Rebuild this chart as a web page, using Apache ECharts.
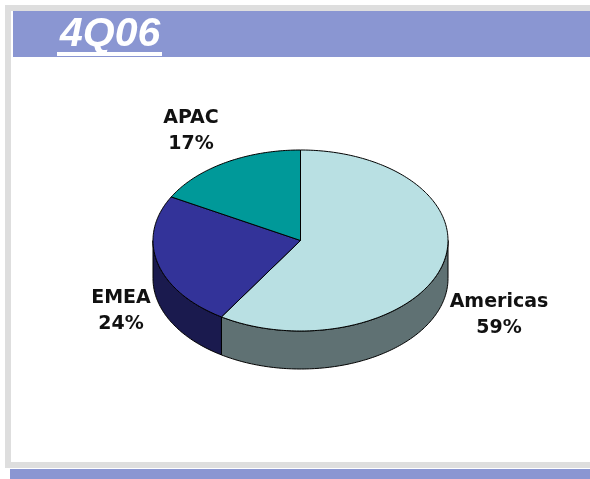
<!DOCTYPE html>
<html>
<head>
<meta charset="utf-8">
<style>html,body{margin:0;padding:0;background:#fff}#c{width:590px;height:479px}</style>
<script src="https://cdn.jsdelivr.net/npm/echarts@6/dist/echarts.min.js"></script>
</head>
<body>
<div id="c"></div>
<script>
const titleText = '4Q06';
const regions = ['Americas', 'EMEA', 'APAC'];
const shares = [59, 24, 17];
const topColors = ['#B9E0E3', '#333399', '#009999'];
const wallColors = ['#5F7173', '#1A1A4E', '#006666'];

const CX = 300.5, CY = 240.5, RX = 147.5, RY = 90.5, DEPTH = 38;
const LABEL_CENTERS = [[499, 315], [121, 311], [191, 131]];
const total = shares.reduce((a, b) => a + b, 0);
const ptOn = (deg, dy) => {
  const r = deg * Math.PI / 180;
  return [CX + RX * Math.sin(r), CY + dy - RY * Math.cos(r)];
};
const arc = (a, b, dy) => {
  const n = Math.max(2, Math.ceil(Math.abs(b - a)));
  const out = [];
  for (let i = 0; i <= n; i++) out.push(ptOn(a + (b - a) * i / n, dy));
  return out;
};
const stroke = '#000000';

function renderItem(params, api) {
  const i = params.dataIndex;
  let before = 0;
  for (let k = 0; k < i; k++) before += shares[k];
  const start = before / total * 360;
  const end = (before + api.value(0)) / total * 360;
  const children = [];
  // visible outer wall: the front half of the disc (90..270 degrees clockwise from top)
  const wa = Math.max(start, 90), wb = Math.min(end, 270);
  if (wb > wa) {
    const pts = arc(wa, wb, 0).concat(arc(wb, wa, DEPTH));
    children.push({
      type: 'polygon', shape: { points: pts },
      style: { fill: wallColors[i], stroke: stroke, lineWidth: 1 }
    });
  }
  children.push({
    type: 'polygon', shape: { points: [[CX, CY]].concat(arc(start, end, 0)) },
    style: { fill: topColors[i], stroke: stroke, lineWidth: 1, lineJoin: 'round' }
  });
  children.push({
    type: 'text',
    style: {
      x: LABEL_CENTERS[i][0], y: LABEL_CENTERS[i][1],
      text: regions[i] + '\n' + shares[i] + '%',
      align: 'center', verticalAlign: 'middle',
      fill: '#111', font: 'bold 19px "DejaVu Sans"', lineHeight: 26
    }
  });
  return { type: 'group', children: children };
}

const chart = echarts.init(document.getElementById('c'), null, { renderer: 'canvas' });
chart.setOption({
  animation: false,
  backgroundColor: '#ffffff',
  graphic: [
    { type: 'rect', z: 0, shape: { x: 5, y: 5, width: 585, height: 6 }, style: { fill: '#DEDEDE' } },
    { type: 'rect', z: 0, shape: { x: 5, y: 5, width: 6, height: 463 }, style: { fill: '#DEDEDE' } },
    { type: 'rect', z: 0, shape: { x: 5, y: 462, width: 585, height: 6 }, style: { fill: '#DEDEDE' } },
    { type: 'rect', z: 0, shape: { x: 13, y: 11, width: 577, height: 46 }, style: { fill: '#8A96D2' } },
    { type: 'rect', z: 0, shape: { x: 10, y: 469, width: 580, height: 10 }, style: { fill: '#8A96D2' } },
    { type: 'text', z: 2, style: { x: 60, y: 35, text: titleText, fill: '#fff', font: 'italic bold 41px "Liberation Sans"', verticalAlign: 'middle' } },
    { type: 'rect', z: 2, shape: { x: 57, y: 52, width: 105, height: 4 }, style: { fill: '#fff' } }
  ],
  series: [{
    type: 'custom',
    coordinateSystem: 'none',
    renderItem: renderItem,
    silent: true,
    data: shares.map(v => [v])
  }]
});
</script>
</body>
</html>
